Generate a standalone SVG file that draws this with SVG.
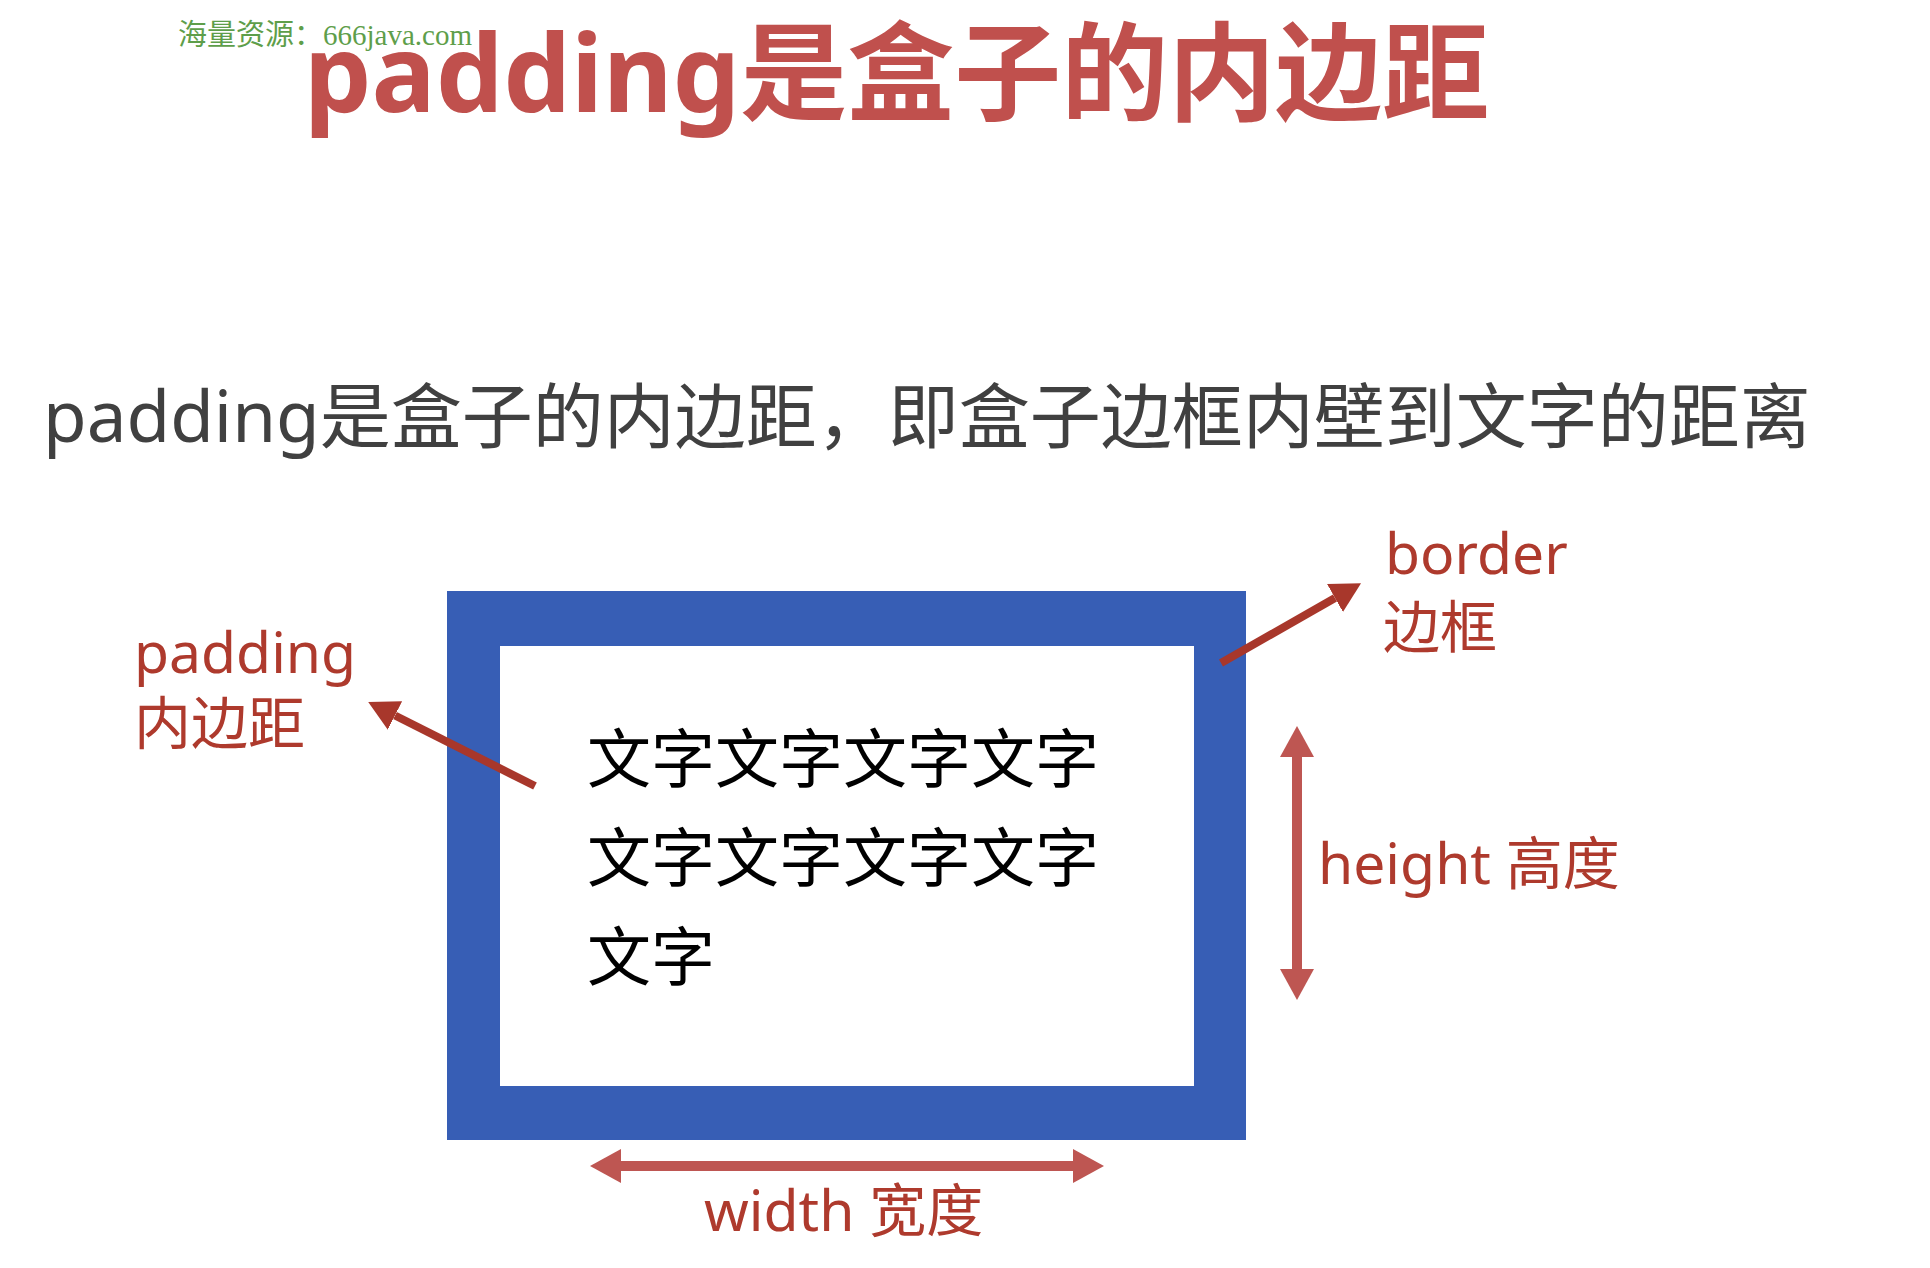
<svg xmlns="http://www.w3.org/2000/svg" width="1930" height="1268" viewBox="0 0 1930 1268">
  <style>
    .title { font-family: "Noto Sans", "Noto Sans CJK SC", sans-serif; font-weight: bold; font-size: 107px; fill: #C0504D; }
    .mark { font-family: "Liberation Serif", "Noto Sans CJK SC", serif; font-size: 29px; fill: #5E9E4A; }
    .lead { font-family: "Noto Sans", "Noto Sans CJK SC", sans-serif; font-size: 71px; fill: #404040; }
    .label { font-family: "Noto Sans", "Noto Sans CJK SC", sans-serif; font-size: 57px; fill: #AE3A2D; }
    .content { font-family: "Noto Sans CJK SC", sans-serif; font-size: 64px; fill: #000000; }
    .pointer { stroke: #A8372B; stroke-width: 8; fill: none; }
    .measure { stroke: #BE5652; stroke-width: 10; fill: none; }
  </style>
  <defs>
    <marker id="head-pointer" viewBox="0 -16 30 32" markerWidth="30" markerHeight="32" refX="0" refY="0" markerUnits="userSpaceOnUse" orient="auto">
      <path d="M0,-16 L30,0 L0,16 z" fill="#A8372B"/>
    </marker>
    <marker id="head-measure" viewBox="0 -17 31 34" markerWidth="31" markerHeight="34" refX="0" refY="0" markerUnits="userSpaceOnUse" orient="auto-start-reverse">
      <path d="M0,-17 L31,0 L0,17 z" fill="#BE5652"/>
    </marker>
  </defs>

  <rect x="0" y="0" width="1930" height="1268" fill="#FFFFFF"/>

  <!-- heading -->
  <g id="watermark">
    <text class="mark" x="178" y="45">海量资源：666java.com</text>
  </g>
  <g id="title">
    <text class="title" x="304" y="112">padding是盒子的内边距</text>
  </g>
  <g id="lead">
    <text class="lead" x="43" y="442">padding是盒子的内边距，即盒子边框内壁到文字的距离</text>
  </g>

  <!-- box model: border ring with content area -->
  <g id="box">
    <rect x="447" y="591" width="799" height="549" fill="#375EB5"/>
    <rect x="500" y="646" width="694" height="440" fill="#FFFFFF"/>
    <text class="content" x="587" y="782">文字文字文字文字</text>
    <text class="content" x="587" y="881">文字文字文字文字</text>
    <text class="content" x="587" y="980">文字</text>
  </g>

  <!-- labels -->
  <g id="padding-label">
    <text class="label" x="134" y="673">padding</text>
    <text class="label" x="134" y="744">内边距</text>
  </g>
  <g id="border-label">
    <text class="label" x="1385" y="574">border</text>
    <text class="label" x="1383" y="648">边框</text>
  </g>
  <g id="height-label">
    <text class="label" x="1318" y="884">height 高度</text>
  </g>
  <g id="width-label">
    <text class="label" x="704" y="1231">width 宽度</text>
  </g>

  <!-- connectors -->
  <g id="connectors">
    <line class="pointer" x1="535" y1="786" x2="395" y2="715.5" marker-end="url(#head-pointer)"/>
    <line class="pointer" x1="1221" y1="663" x2="1335" y2="598" marker-end="url(#head-pointer)"/>
    <line class="measure" x1="1297" y1="757" x2="1297" y2="969" marker-start="url(#head-measure)" marker-end="url(#head-measure)"/>
    <line class="measure" x1="621" y1="1166" x2="1073" y2="1166" stroke-width="9" marker-start="url(#head-measure)" marker-end="url(#head-measure)"/>
  </g>
</svg>
